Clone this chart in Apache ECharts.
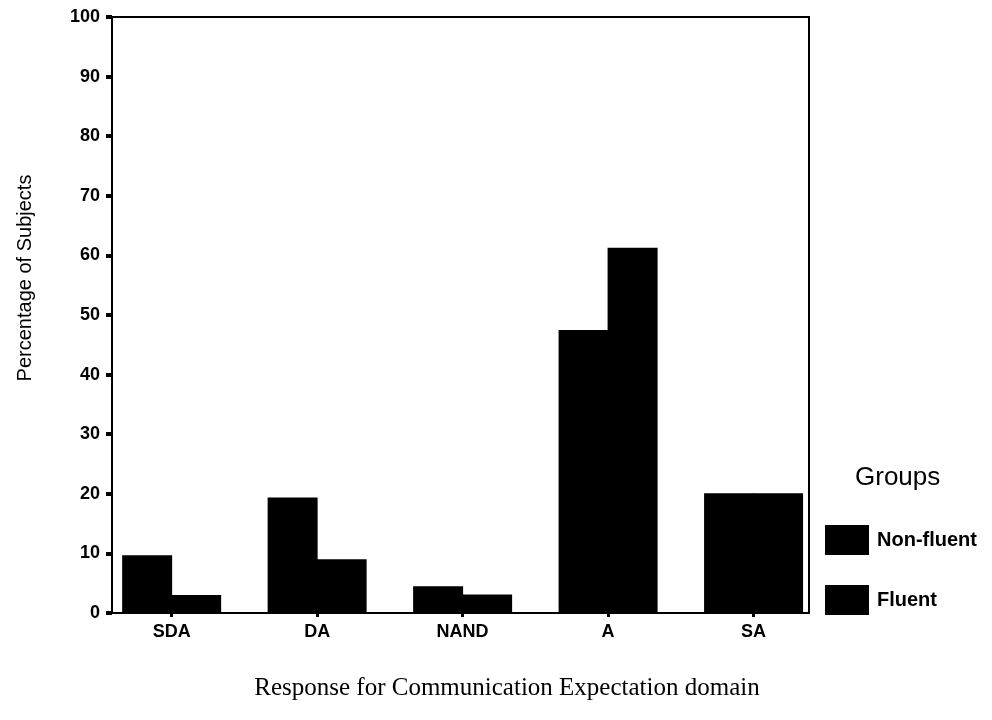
<!DOCTYPE html>
<html>
<head>
<meta charset="utf-8">
<script src="https://cdn.jsdelivr.net/npm/echarts@6/dist/echarts.min.js"></script>
<style>
  html, body { margin: 0; padding: 0; background: #fff; }
  #chart { width: 992px; height: 720px; }
</style>
</head>
<body>
<div id="chart"></div>
<script>
const categories = ['SDA', 'DA', 'NAND', 'A', 'SA'];
const seriesNames = ['Non-fluent', 'Fluent'];
const nonFluent = [9.7, 19.4, 4.5, 47.5, 20.1];
const fluent = [3.0, 9.0, 3.1, 61.3, 20.1];
const yTicks = [0, 10, 20, 30, 40, 50, 60, 70, 80, 90, 100];

const SANS = "'Liberation Sans', Arial, sans-serif";
const SERIF = "'Liberation Serif', 'Times New Roman', serif";
const catIdx = categories.map((c, i) => i);

const chart = echarts.init(document.getElementById('chart'), null, { renderer: 'canvas' });
chart.setOption({
  animation: false,
  backgroundColor: '#fff',
  grid: {
    left: 112, right: 183, top: 17, bottom: 107,
    show: true, borderColor: '#000', borderWidth: 2, backgroundColor: 'transparent'
  },
  xAxis: {
    type: 'value',
    min: -0.41, max: 4.381,
    splitLine: { show: false },
    axisLine: { show: true, onZero: false, lineStyle: { color: '#000', width: 2 } },
    axisTick: { show: true, customValues: catIdx, length: 4, lineStyle: { color: '#000', width: 3 } },
    axisLabel: {
      customValues: catIdx,
      formatter: v => categories[Math.round(v)] || '',
      color: '#000', fontFamily: SANS, fontSize: 18, fontWeight: 'bold', margin: 10
    }
  },
  yAxis: {
    type: 'value',
    min: 0, max: 100, interval: 10,
    splitLine: { show: false },
    axisLine: { show: true, onZero: false, lineStyle: { color: '#000', width: 2 } },
    axisTick: { show: true, length: 6, lineStyle: { color: '#000', width: 4 } },
    axisLabel: {
      formatter: v => yTicks.includes(v) ? String(v) : '',
      color: '#000', fontFamily: SANS, fontSize: 18, fontWeight: 'bold', margin: 12
    }
  },
  legend: {
    orient: 'vertical',
    left: 825, top: 525, padding: 0,
    itemWidth: 44, itemHeight: 30, itemGap: 30,
    icon: 'rect',
    data: seriesNames,
    itemStyle: { borderWidth: 0 },
    textStyle: { color: '#000', fontFamily: SANS, fontSize: 20, fontWeight: 'bold', padding: [0, 0, 0, 3] }
  },
  graphic: [
    {
      type: 'text', x: 25, y: 278, rotation: Math.PI / 2,
      style: { text: 'Percentage of Subjects', fill: '#000', font: "20px " + SANS, textAlign: 'center', textVerticalAlign: 'middle' }
    },
    {
      type: 'text', x: 507, y: 688,
      style: { text: 'Response for Communication Expectation domain', fill: '#000', font: "25px " + SERIF, textAlign: 'center', textVerticalAlign: 'middle' }
    },
    {
      type: 'text', x: 855, y: 478,
      style: { text: 'Groups', fill: '#000', font: "26px " + SANS, textAlign: 'left', textVerticalAlign: 'middle' }
    }
  ],
  series: [
    {
      name: seriesNames[0], type: 'bar', barWidth: 50, barGap: '-2%',
      itemStyle: { color: '#000' },
      data: nonFluent.map((v, i) => [i, v])
    },
    {
      name: seriesNames[1], type: 'bar', barWidth: 50, barGap: '-2%',
      itemStyle: { color: '#000' },
      data: fluent.map((v, i) => [i, v])
    }
  ]
});
</script>
</body>
</html>
